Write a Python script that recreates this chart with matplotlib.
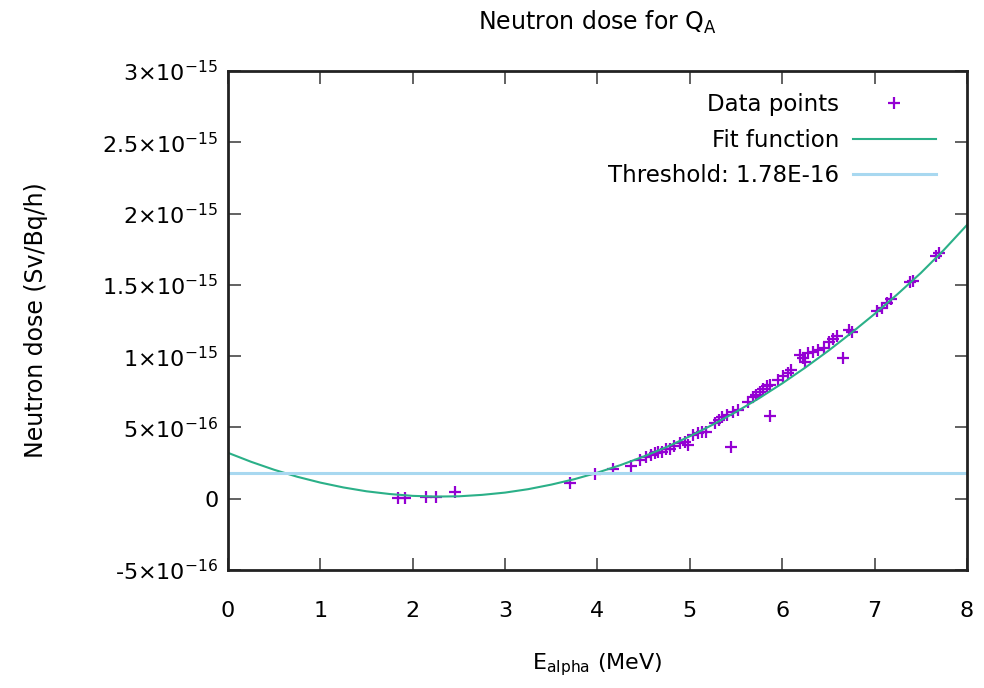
import matplotlib
matplotlib.use('Agg')
import matplotlib.pyplot as plt
import numpy as np

plt.rcParams['font.family'] = ['DejaVu Sans']
plt.rcParams['mathtext.default'] = 'regular'

# measured points: alpha energy (MeV) and neutron dose (units of 1e-15 Sv/Bq/h)
e_alpha = [1.84, 1.92, 2.14, 2.25, 2.46,
           3.70, 3.97, 4.17, 4.36, 4.46, 4.53, 4.58, 4.62, 4.66, 4.70,
           4.74, 4.78, 4.83, 4.89, 4.95, 4.98, 5.03, 5.09, 5.13, 5.18,
           5.27, 5.32, 5.35, 5.40, 5.45, 5.47, 5.52, 5.63, 5.68, 5.72,
           5.76, 5.79, 5.84, 5.87, 5.87, 5.95, 6.01, 6.06, 6.10, 6.19,
           6.22, 6.25, 6.28, 6.33, 6.39, 6.45, 6.51, 6.55, 6.59, 6.66,
           6.72, 6.76, 7.03, 7.08, 7.13, 7.18, 7.38, 7.42, 7.66, 7.70]
dose = [0.003, 0.003, 0.015, 0.015, 0.045,
        0.11, 0.17, 0.21, 0.23, 0.27, 0.29, 0.31, 0.32, 0.33, 0.33,
        0.35, 0.35, 0.37, 0.39, 0.40, 0.38, 0.45, 0.46, 0.47, 0.47,
        0.53, 0.55, 0.57, 0.59, 0.36, 0.61, 0.62, 0.68, 0.71, 0.73,
        0.75, 0.77, 0.79, 0.80, 0.58, 0.83, 0.86, 0.88, 0.90, 1.01,
        0.99, 0.96, 1.02, 1.03, 1.04, 1.06, 1.10, 1.12, 1.14, 0.99,
        1.18, 1.17, 1.32, 1.34, 1.37, 1.40, 1.52, 1.53, 1.70, 1.72]

# fit curve every 0.25 MeV
fit_e = [0.0, 0.25, 0.5, 0.75, 1.0, 1.25, 1.5, 1.75, 2.0, 2.25, 2.5,
         2.75, 3.0, 3.25, 3.5, 3.75, 4.0, 4.25, 4.5, 4.75, 5.0, 5.25,
         5.5, 5.75, 6.0, 6.25, 6.5, 6.75, 7.0, 7.25, 7.5, 7.75, 8.0]
fit_dose = [0.322, 0.259, 0.203, 0.154, 0.113, 0.079, 0.052, 0.033, 0.020,
            0.015, 0.017, 0.027, 0.043, 0.067, 0.099, 0.137, 0.183, 0.236,
            0.296, 0.363, 0.438, 0.520, 0.609, 0.705, 0.809, 0.920, 1.038,
            1.164, 1.296, 1.436, 1.583, 1.745, 1.920]

threshold = 1.78e-16

yticks = [-5e-16, 0, 5e-16, 1e-15, 1.5e-15, 2e-15, 2.5e-15, 3e-15]
ytick_labels = [r'-5$\times$10$^{-16}$', '0', r'5$\times$10$^{-16}$', r'1$\times$10$^{-15}$',
                r'1.5$\times$10$^{-15}$', r'2$\times$10$^{-15}$', r'2.5$\times$10$^{-15}$',
                r'3$\times$10$^{-15}$']
xticks = [0, 1, 2, 3, 4, 5, 6, 7, 8]

fig = plt.figure(figsize=(9.84, 6.88), dpi=100)
ax = fig.add_axes([0.2317, 0.1715, 0.751, 0.7253])

ax.plot(np.array(e_alpha), np.array(dose) * 1e-15, linestyle='none', marker='+',
        markersize=9, markeredgewidth=1.6, color='#9400d3', label='Data points')
ax.plot(np.array(fit_e), np.array(fit_dose) * 1e-15, color='#2bb088', linewidth=1.5,
        label='Fit function')
ax.axhline(threshold, color='#a8d8f0', linewidth=2.2, label='Threshold: 1.78E-16')

ax.set_xlim(0, 8)
ax.set_ylim(-5e-16, 3e-15)
ax.set_xticks(xticks)
ax.set_yticks(yticks)
ax.set_yticklabels(ytick_labels)

ax.tick_params(direction='in', length=9, width=1.3, color='#555555', top=True, right=True,
               labelsize=16)
ax.tick_params(axis='x', pad=22)
ax.tick_params(axis='y', pad=7)
for sp in ax.spines.values():
    sp.set_linewidth(2)
    sp.set_color('#222222')

ax.set_title(r'Neutron dose for Q$_{A}$', fontsize=17, pad=30)
ax.set_xlabel(r'E$_{alpha}$ (MeV)', fontsize=16)
ax.set_ylabel('Neutron dose (Sv/Bq/h)', fontsize=17)
ax.xaxis.set_label_coords(0.5, -0.162)
ax.yaxis.set_label_coords(-0.243, 0.5)

ax.legend(loc='upper right', bbox_to_anchor=(0.970, 0.974), borderaxespad=0,
          frameon=False, markerfirst=False, fontsize=16.5,
          handlelength=3.6, numpoints=1, labelspacing=0.55, handletextpad=0.6)

fig.savefig('out.png', dpi=100)
